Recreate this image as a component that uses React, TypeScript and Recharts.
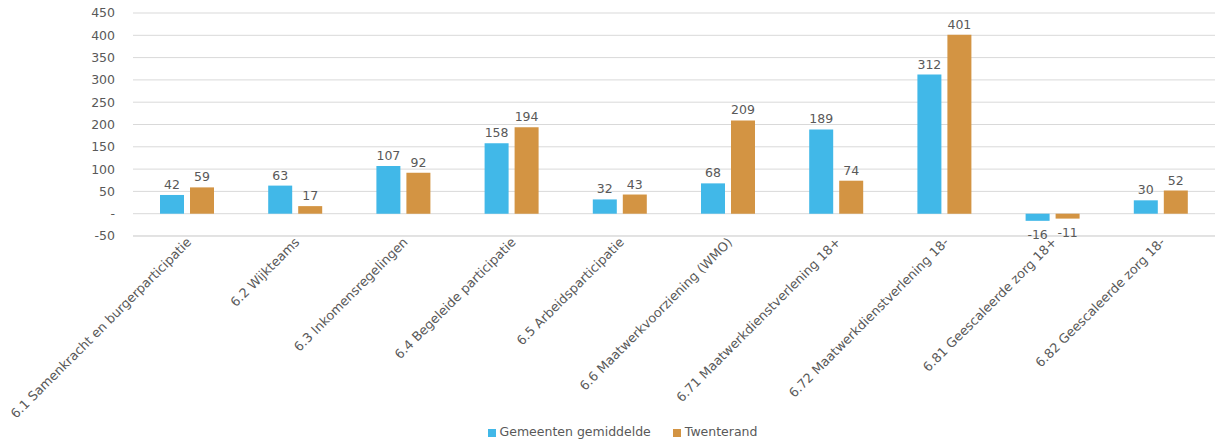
import { BarChart, Bar, XAxis, YAxis, CartesianGrid, Legend, LabelList } from 'recharts'

const categories = [
  '6.1 Samenkracht en burgerparticipatie',
  '6.2 Wijkteams',
  '6.3 Inkomensregelingen',
  '6.4 Begeleide participatie',
  '6.5 Arbeidsparticipatie',
  '6.6 Maatwerkvoorziening (WMO)',
  '6.71 Maatwerkdienstverlening 18+',
  '6.72 Maatwerkdienstverlening 18-',
  '6.81 Geescaleerde zorg 18+',
  '6.82 Geescaleerde zorg 18-',
]
const gemiddelde = [42, 63, 107, 158, 32, 68, 189, 312, -16, 30]
const twenterand = [59, 17, 92, 194, 43, 209, 74, 401, -11, 52]
const yTicks = [-50, 0, 50, 100, 150, 200, 250, 300, 350, 400, 450]

const data = categories.map((name, i) => ({ name, gem: gemiddelde[i], twe: twenterand[i] }))

const TEXT = '#595959'
const FONT = 'DejaVu Sans, Verdana, sans-serif'

function AngledTick({ x, y, payload }: any) {
  const tx = x + 5
  const ty = y - 1
  return (
    <text
      x={tx}
      y={ty}
      transform={`rotate(-45, ${tx}, ${ty})`}
      textAnchor="end"
      fontSize={12.8}
      fill={TEXT}
      fontFamily={FONT}
    >
      {payload.value}
    </text>
  )
}

function ValueLabel({ x, y, width, height, value }: any) {
  const cx = x + width / 2
  const top = Math.min(y, y + height)
  const bottom = Math.max(y, y + height)
  const ty = value < 0 ? bottom + 18 : top - 6
  return (
    <text x={cx} y={ty} textAnchor="middle" fontSize={12.5} fill={TEXT} fontFamily={FONT}>
      {value}
    </text>
  )
}

export default function App() {
  return (
    <div style={{ position: 'absolute', left: 0, top: 0, width: 1215, height: 443, background: '#fff' }}>
      <BarChart
        width={1215}
        height={443}
        data={data}
        margin={{ top: 13, right: 0, bottom: 4, left: 0 }}
        barGap={6}
        barCategoryGap={27}
      >
        <CartesianGrid vertical={false} stroke="#d9d9d9" />
        <XAxis
          dataKey="name"
          interval={0}
          tick={<AngledTick />}
          tickLine={false}
          axisLine={{ stroke: '#d9d9d9' }}
          height={188}
        />
        <YAxis
          domain={[-50, 450]}
          ticks={yTicks}
          interval={0}
          width={133}
          tickLine={false}
          axisLine={false}
          tickSize={0}
          tickMargin={18}
          tick={{ fontSize: 12.5, fill: TEXT, fontFamily: FONT }}
          tickFormatter={(v: number) => (v === 0 ? '-' : String(v))}
        />
        <Legend
          verticalAlign="bottom"
          iconType="square"
          iconSize={8}
          wrapperStyle={{ fontSize: 12.5, fontFamily: FONT, color: TEXT, paddingLeft: 26 }}
          formatter={(value: string) => <span style={{ color: TEXT, marginRight: 12 }}>{value}</span>}
        />
        <Bar dataKey="gem" name="Gemeenten gemiddelde" fill="#41b8e8" isAnimationActive={false}>
          <LabelList dataKey="gem" content={<ValueLabel />} />
        </Bar>
        <Bar dataKey="twe" name="Twenterand" fill="#d39443" isAnimationActive={false}>
          <LabelList dataKey="twe" content={<ValueLabel />} />
        </Bar>
      </BarChart>
    </div>
  )
}
